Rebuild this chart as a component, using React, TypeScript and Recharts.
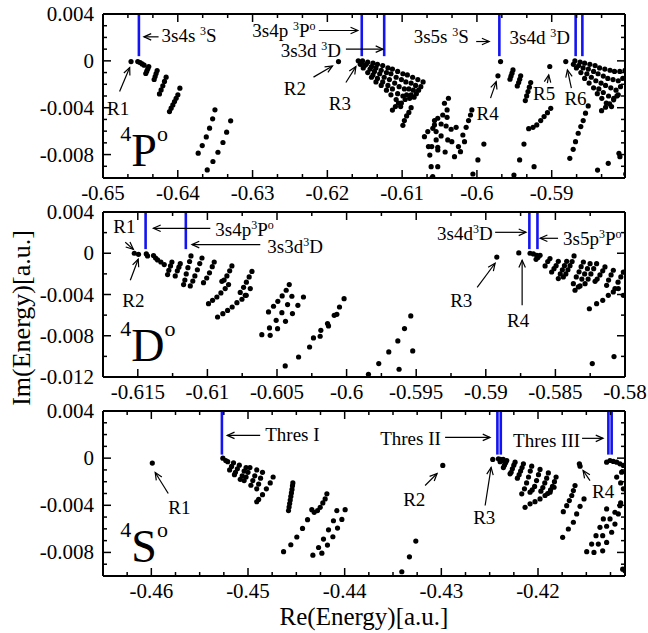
import { ScatterChart, Scatter, XAxis, YAxis, ReferenceLine, ReferenceDot } from 'recharts';

type Pt = [number, number];
type Arrow = [number, number, number, number];
type Note = { x: number; y: number; text: string };

const FONT = '"Liberation Serif", "Times New Roman", serif';

// ---------- 4P° panel ----------
const p1XMajor = [-0.65, -0.64, -0.63, -0.62, -0.61, -0.6, -0.59];
const p1XMinor = [-0.64667, -0.64333, -0.63667, -0.63333, -0.62667, -0.62333, -0.61667, -0.61333, -0.60667, -0.60333, -0.59667, -0.59333, -0.58667, -0.58333];
const p1YMajor = [0.004, 0, -0.004, -0.008];
const p1YMinor = [0.003, 0.002, 0.001, -0.001, -0.002, -0.003, -0.005, -0.006, -0.007, -0.009];
const p1Thresholds = [-0.6452, -0.6154, -0.6124, -0.597, -0.5868, -0.5859];

const p1Resonances: Pt[] = [[-0.64625, -0.00006], [-0.61851, -0.00006], [-0.59719, -0.00128], [-0.59026, -0.00048], [-0.58812, -0.00006]];
const p1Series1: Pt[] = [
  [-0.64535, -0.00006], [-0.64504, -0.00014], [-0.64477, -0.00026], [-0.6445, -0.00037],
  [-0.64388, -0.00048], [-0.64401, -0.00068], [-0.64415, -0.00088], [-0.64428, -0.00108],
  [-0.64276, -0.00083], [-0.6429, -0.00108], [-0.64303, -0.00134], [-0.64316, -0.00159],
  [-0.64156, -0.00139], [-0.64178, -0.00176], [-0.642, -0.00213], [-0.64223, -0.00248], [-0.64245, -0.00282],
  [-0.64111, -0.00433], [-0.64089, -0.00404], [-0.64066, -0.00376], [-0.64044, -0.00347], [-0.64022, -0.00319], [-0.63999, -0.0029], [-0.63972, -0.00233],
];
const p1Lines: Pt[] = [
  [-0.63727, -0.00788], [-0.63673, -0.00723], [-0.63619, -0.00649], [-0.63575, -0.00575], [-0.63534, -0.00495], [-0.63503, -0.00418],
  [-0.63606, -0.00931], [-0.6353, -0.00859], [-0.63463, -0.0078], [-0.63396, -0.00697], [-0.63347, -0.00609], [-0.63293, -0.00512],
];
const p1Mass: Pt[] = [
  [-0.61587, 0], [-0.6153, 0], [-0.6154, -0.0001], [-0.6156, -0.0003],
  [-0.6146, -0.0001], [-0.6148, -0.0003], [-0.615, -0.0004], [-0.6152, -0.0006],
  [-0.6139, -0.0002], [-0.6141, -0.0005], [-0.6143, -0.0007], [-0.6146, -0.001],
  [-0.6133, -0.0003], [-0.6135, -0.0006], [-0.6137, -0.0009], [-0.6139, -0.0012], [-0.6141, -0.0014],
  [-0.6126, -0.0004], [-0.6128, -0.0008], [-0.613, -0.0011], [-0.6133, -0.0015], [-0.6135, -0.0018],
  [-0.6119, -0.0006], [-0.6121, -0.001], [-0.6124, -0.0014], [-0.6126, -0.0018], [-0.6128, -0.0021],
  [-0.6113, -0.0007], [-0.6115, -0.0011], [-0.6117, -0.0016], [-0.6119, -0.0021], [-0.6121, -0.0025],
  [-0.6106, -0.0009], [-0.6108, -0.0014], [-0.611, -0.0019], [-0.6113, -0.0024], [-0.6115, -0.0029],
  [-0.6099, -0.0011], [-0.6101, -0.0016], [-0.6104, -0.0022], [-0.6106, -0.0028], [-0.6108, -0.0033],
  [-0.6093, -0.0012], [-0.6095, -0.0018], [-0.6097, -0.0024], [-0.6099, -0.003], [-0.6101, -0.0036], [-0.6102, -0.0039],
  [-0.6086, -0.0014], [-0.6088, -0.0019], [-0.6091, -0.0024], [-0.6094, -0.0029], [-0.6096, -0.0033],
  [-0.6079, -0.0016], [-0.6082, -0.0021], [-0.6085, -0.0025], [-0.6088, -0.0029], [-0.609, -0.0032],
  [-0.6072, -0.0018], [-0.6075, -0.0022], [-0.6078, -0.0025], [-0.6081, -0.0028], [-0.6084, -0.0031],
  [-0.6113, -0.0042], [-0.6109, -0.0039], [-0.6105, -0.0036],
  [-0.6099, -0.0055], [-0.6097, -0.0051], [-0.6094, -0.0047], [-0.6091, -0.0044], [-0.6088, -0.004],
];
const p1Cloud: Pt[] = [
  [-0.60702, -0.00647], [-0.60648, -0.00732], [-0.6063, -0.00804], [-0.60612, -0.00903], [-0.60603, -0.01], [-0.6059, -0.00576],
  [-0.60567, -0.0051], [-0.60545, -0.00675], [-0.60657, -0.00604], [-0.60523, -0.00761],
  [-0.60381, -0.00319], [-0.60434, -0.00362], [-0.60399, -0.00419], [-0.60457, -0.00462], [-0.60524, -0.0049], [-0.60399, -0.00482],
  [-0.60568, -0.00547], [-0.60479, -0.00539], [-0.60412, -0.00556], [-0.60345, -0.00584], [-0.60278, -0.00567], [-0.60546, -0.00604],
  [-0.60479, -0.00641], [-0.6039, -0.00675], [-0.60604, -0.00732], [-0.60524, -0.00738], [-0.60425, -0.00778], [-0.60336, -0.0069],
  [-0.603, -0.00818], [-0.60247, -0.00732], [-0.60188, -0.00633], [-0.60166, -0.0069], [-0.6022, -0.00775], [-0.60144, -0.00567],
  [-0.60112, -0.0051], [-0.60086, -0.00462], [-0.60068, -0.00419], [-0.59907, -0.0071], [-0.59987, -0.00846], [-0.60054, -0.00966],
  [-0.60524, -0.00903], [-0.60591, -0.00989],
];
const p1Series4: Pt[] = [
  [-0.59684, -0.00006],
  [-0.59518, -0.00077], [-0.59531, -0.00105], [-0.59545, -0.00131], [-0.59558, -0.00157],
  [-0.59415, -0.00128], [-0.59428, -0.00157], [-0.59442, -0.00185], [-0.5946, -0.00214],
  [-0.59281, -0.00185], [-0.59299, -0.00225], [-0.59317, -0.00262], [-0.59335, -0.00299], [-0.59353, -0.00339],
  [-0.59013, -0.00405], [-0.59057, -0.00442], [-0.59102, -0.00476], [-0.59147, -0.0051], [-0.592, -0.00547], [-0.5925, -0.00567],
  [-0.59308, -0.00579], [-0.59371, -0.0071], [-0.59429, -0.00846], [-0.59505, -0.00975], [-0.59236, -0.00903],
];
const p1Series6: Pt[] = [
  [-0.58758, -0.00832], [-0.58713, -0.00755], [-0.58682, -0.0069], [-0.58646, -0.00618], [-0.58611, -0.00561], [-0.58579, -0.0051],
  [-0.58548, -0.00447], [-0.58512, -0.00385],
  [-0.58387, -0.00932], [-0.58244, -0.00875], [-0.58101, -0.00789], [-0.58088, -0.00818], [-0.58011, -0.00966],
  [-0.5869, 0], [-0.5871, -0.0003],
  [-0.5862, -0.0001], [-0.5864, -0.0004], [-0.5867, -0.0006],
  [-0.5856, -0.0002], [-0.5858, -0.0006], [-0.5861, -0.001],
  [-0.5849, -0.0003], [-0.5851, -0.0007], [-0.5853, -0.0011], [-0.5856, -0.0015],
  [-0.5842, -0.0004], [-0.5844, -0.0009], [-0.5847, -0.0014], [-0.585, -0.0019],
  [-0.5836, -0.0006], [-0.5838, -0.0011], [-0.5841, -0.0017], [-0.5844, -0.0023],
  [-0.5829, -0.0007], [-0.5831, -0.0013], [-0.5834, -0.0019], [-0.5837, -0.0024], [-0.5839, -0.0028],
  [-0.5822, -0.0008], [-0.5825, -0.0015], [-0.5828, -0.0021], [-0.5831, -0.0027], [-0.5833, -0.0032],
  [-0.5816, -0.0009], [-0.5818, -0.0016], [-0.5821, -0.0023], [-0.5824, -0.003], [-0.5827, -0.0036],
  [-0.5809, -0.0009], [-0.5811, -0.0017], [-0.5814, -0.0025], [-0.5817, -0.0032], [-0.582, -0.0039],
  [-0.5802, -0.0008], [-0.5805, -0.0015], [-0.5808, -0.0022], [-0.5811, -0.0029],
  [-0.58333, -0.00425], [-0.5828, -0.00396], [-0.58226, -0.00368], [-0.58172, -0.00333], [-0.58128, -0.00299],
];
const p1Notes: Note[] = [
  { x: -0.64217, y: 0.00162, text: '3s4s ^{3}S' },
  { x: -0.63003, y: 0.00205, text: '3s4p ^{3}P^{o}' },
  { x: -0.62624, y: 0.00034, text: '3s3d ^{3}D' },
  { x: -0.60845, y: 0.00151, text: '3s5s ^{3}S' },
  { x: -0.59564, y: 0.00145, text: '3s4d ^{3}D' },
  { x: -0.64946, y: -0.00461, text: 'R1' },
  { x: -0.62583, y: -0.0029, text: 'R2' },
  { x: -0.6198, y: -0.00418, text: 'R3' },
  { x: -0.60006, y: -0.00504, text: 'R4' },
  { x: -0.5925, y: -0.00333, text: 'R5' },
  { x: -0.5883, y: -0.00376, text: 'R6' },
];
const p1Arrows: Arrow[] = [
  [-0.64257, 0.00205, -0.64453, 0.00205],
  [-0.62114, 0.00259, -0.61592, 0.00259],
  [-0.61752, 0.001, -0.61256, 0.001],
  [-0.6001, 0.00165, -0.59836, 0.00165],
  [-0.64778, -0.00262, -0.64643, -0.00057],
  [-0.62185, -0.00139, -0.61931, -0.00043],
  [-0.61752, -0.00185, -0.61618, -0.00049],
  [-0.59818, -0.00318, -0.59742, -0.00177],
  [-0.59058, -0.0019, -0.5904, -0.0012],
  [-0.58737, -0.00233, -0.5879, -0.00077],
];

// ---------- 4D° panel ----------
const p2XMajor = [-0.615, -0.61, -0.605, -0.6, -0.595, -0.59, -0.585, -0.58];
const p2XMinor = [-0.6125, -0.6075, -0.6025, -0.5975, -0.5925, -0.5875, -0.5825];
const p2YMajor = [0.004, 0, -0.004, -0.008, -0.012];
const p2YMinor = [0.002, -0.002, -0.006, -0.01];
const p2Thresholds = [-0.61444, -0.61155, -0.58687, -0.58629];

const p2Resonances: Pt[] = [[-0.61525, 0], [-0.61495, -0.0001], [-0.58921, -0.00037], [-0.58763, 0.00003]];
const p2Series1: Pt[] = [
  [-0.61439, -0.00007], [-0.6143, -0.00026], [-0.61387, -0.00023], [-0.61372, -0.00046], [-0.61358, -0.00065], [-0.61334, -0.00085], [-0.6131, -0.0011],
  [-0.61255, -0.00085], [-0.61265, -0.00123], [-0.61277, -0.00165], [-0.61286, -0.00207],
  [-0.61195, -0.00101], [-0.61205, -0.00135], [-0.61216, -0.0017], [-0.61231, -0.0022],
  [-0.61118, -0.00026], [-0.61128, -0.0008], [-0.6114, -0.0014], [-0.61152, -0.002], [-0.61162, -0.0026], [-0.61171, -0.00304],
  [-0.61039, -0.00046], [-0.61055, -0.001], [-0.61072, -0.0016], [-0.6109, -0.0022], [-0.61105, -0.0027], [-0.61123, -0.00317],
  [-0.60951, -0.00085], [-0.60965, -0.0013], [-0.60985, -0.0019], [-0.61005, -0.0024], [-0.61028, -0.00285],
  [-0.60824, -0.00123], [-0.6084, -0.0017], [-0.6086, -0.0022], [-0.6088, -0.0026], [-0.60896, -0.00272],
  [-0.6068, -0.00176], [-0.607, -0.0023], [-0.6072, -0.0028], [-0.6074, -0.0033], [-0.60764, -0.0038], [-0.60728, -0.00408], [-0.60692, -0.00343],
  [-0.60992, -0.00489], [-0.60963, -0.00456], [-0.60932, -0.00424], [-0.60903, -0.00385], [-0.60872, -0.00343], [-0.60848, -0.00304],
  [-0.60927, -0.00618], [-0.60889, -0.00586], [-0.60855, -0.00554], [-0.60822, -0.00521], [-0.60788, -0.00479], [-0.60752, -0.00446], [-0.60721, -0.00408],
];
const p2Cloud: Pt[] = [
  [-0.60561, -0.00569], [-0.60525, -0.00514], [-0.60494, -0.00466], [-0.60463, -0.00414], [-0.60434, -0.00359], [-0.60412, -0.00304],
  [-0.60554, -0.00724], [-0.60506, -0.0065], [-0.60465, -0.00576], [-0.60424, -0.00498], [-0.60393, -0.00417],
  [-0.60609, -0.0079], [-0.60549, -0.00796], [-0.60496, -0.00731], [-0.60439, -0.0066], [-0.60389, -0.00585], [-0.6035, -0.00505], [-0.6031, -0.00424],
  [-0.60441, -0.01093], [-0.60345, -0.01006], [-0.60266, -0.00909], [-0.60238, -0.00821], [-0.6019, -0.00805], [-0.60185, -0.00747],
  [-0.60137, -0.00682], [-0.6013, -0.00705], [-0.60089, -0.00602], [-0.6007, -0.00592], [-0.60051, -0.00521], [-0.60018, -0.0044],
  [-0.59843, -0.01174], [-0.59769, -0.0107], [-0.59697, -0.00957], [-0.59632, -0.0085], [-0.59584, -0.0073], [-0.59539, -0.00608],
  [-0.59623, -0.01125], [-0.59525, -0.00947],
];
const p2Mass: Pt[] = [
  [-0.58682, 0], [-0.58658, -0.00007], [-0.58634, -0.0002],
  [-0.5861, -0.0002], [-0.58625, -0.0004], [-0.58639, -0.00059],
  [-0.58539, -0.00052], [-0.58555, -0.0008], [-0.58574, -0.00123],
  [-0.58479, -0.00078], [-0.58495, -0.0012], [-0.5851, -0.0015], [-0.58527, -0.00182],
  [-0.58419, -0.00078], [-0.58435, -0.0012], [-0.5845, -0.0016], [-0.58465, -0.002], [-0.58479, -0.00246],
  [-0.58366, -0.00026], [-0.5838, -0.0008], [-0.58395, -0.0012], [-0.5841, -0.0016], [-0.58425, -0.002], [-0.58443, -0.0023],
  [-0.58299, -0.00085], [-0.58315, -0.0013], [-0.5833, -0.0018], [-0.5835, -0.0023], [-0.58371, -0.00295],
  [-0.58251, -0.00101], [-0.5827, -0.0015], [-0.5829, -0.002], [-0.5831, -0.0025], [-0.58335, -0.00327],
  [-0.58204, -0.00101], [-0.58225, -0.0015], [-0.58245, -0.002], [-0.58265, -0.0025], [-0.58287, -0.00295],
  [-0.58144, -0.00133], [-0.5816, -0.0017], [-0.5818, -0.0021], [-0.582, -0.0025], [-0.58215, -0.00272],
  [-0.58084, -0.00165], [-0.581, -0.0021], [-0.58118, -0.0026], [-0.58132, -0.00311],
  [-0.58012, -0.00182], [-0.5803, -0.0023], [-0.5805, -0.0028], [-0.58072, -0.00343],
  [-0.58359, -0.00359], [-0.58323, -0.00317], [-0.58256, -0.00538], [-0.58204, -0.00489], [-0.5816, -0.00456],
  [-0.5812, -0.00408], [-0.58084, -0.00375], [-0.58048, -0.00343], [-0.58012, -0.00408],
  [-0.58235, -0.0107], [-0.58079, -0.01002],
];
const p2Notes: Note[] = [
  { x: -0.61676, y: 0.00193, text: 'R1' },
  { x: -0.61611, y: -0.00523, text: 'R2' },
  { x: -0.60943, y: 0.00164, text: '3s4p^{3}P^{o}' },
  { x: -0.6057, y: 0, text: '3s3d^{3}D' },
  { x: -0.5935, y: 0.00126, text: '3s4d^{3}D' },
  { x: -0.58445, y: 0.00077, text: '3s5p^{3}P^{o}' },
  { x: -0.59256, y: -0.00523, text: 'R3' },
  { x: -0.58847, y: -0.00717, text: 'R4' },
];
const p2Arrows: Arrow[] = [
  [-0.6159, 0.00106, -0.61532, 0.00038],
  [-0.61554, -0.00262, -0.61497, -0.00058],
  [-0.60979, 0.00242, -0.61388, 0.00242],
  [-0.6062, 0.00084, -0.61111, 0.00084],
  [-0.58933, 0.00203, -0.58711, 0.00203],
  [-0.58481, 0.00145, -0.5861, 0.00145],
  [-0.59062, -0.0033, -0.58933, -0.00097],
  [-0.58739, -0.00505, -0.58739, -0.00068],
];

// ---------- 4S° panel ----------
const p3XMajor = [-0.46, -0.45, -0.44, -0.43, -0.42];
const p3XMinor = [-0.4625, -0.4575, -0.455, -0.4525, -0.4475, -0.445, -0.4425, -0.4375, -0.435, -0.4325, -0.4275, -0.425, -0.4225, -0.4175, -0.415, -0.4125];
const p3YMajor = [0.004, 0, -0.004, -0.008];
const p3YMinor = [0.003, 0.002, 0.001, -0.001, -0.002, -0.003, -0.005, -0.006, -0.007, -0.009];
const p3Thresholds = [-0.4527, -0.4242, -0.42385, -0.41272, -0.41238];

const p3Resonances: Pt[] = [[-0.4599, -0.00042], [-0.42985, -0.00062], [-0.42468, -0.00011], [-0.41572, -0.00048], [-0.41565, -0.00068]];
const p3Series1: Pt[] = [
  [-0.4526, 0], [-0.4523, -0.0002], [-0.4521, -0.0003],
  [-0.4515, -0.0004], [-0.4517, -0.0007], [-0.4519, -0.001],
  [-0.4509, -0.0006], [-0.4511, -0.0009], [-0.4513, -0.0012], [-0.4514, -0.0014],
  [-0.4502, -0.0008], [-0.4504, -0.0011], [-0.4506, -0.0015], [-0.4508, -0.0018],
  [-0.4498, -0.0008], [-0.45, -0.0012], [-0.4502, -0.0016], [-0.4504, -0.0019],
  [-0.4491, -0.001], [-0.4493, -0.0015], [-0.4495, -0.0019], [-0.4497, -0.0023],
  [-0.4485, -0.0012], [-0.4487, -0.0017], [-0.4489, -0.0022], [-0.4491, -0.0026],
  [-0.4474, -0.0016], [-0.4477, -0.0021], [-0.4481, -0.0026], [-0.4485, -0.0031], [-0.4489, -0.0035], [-0.4491, -0.0037],
  [-0.44581, -0.00445], [-0.44575, -0.00415], [-0.44569, -0.00385], [-0.44563, -0.00355], [-0.44557, -0.00325],
  [-0.44551, -0.00295], [-0.44545, -0.00265], [-0.4454, -0.00235], [-0.44536, -0.0021],
  [-0.44632, -0.00794], [-0.44557, -0.00735], [-0.44495, -0.00669], [-0.44436, -0.00596], [-0.44384, -0.00522],
  [-0.4434, -0.00437], [-0.44315, -0.0046], [-0.44281, -0.00445], [-0.44253, -0.00417], [-0.44226, -0.0038], [-0.44202, -0.00346], [-0.44184, -0.00303],
  [-0.44329, -0.00823], [-0.4427, -0.00758], [-0.44219, -0.00687], [-0.44167, -0.00608], [-0.44116, -0.00531], [-0.44081, -0.00445],
  [-0.44236, -0.00806], [-0.44178, -0.00738], [-0.44122, -0.00667], [-0.44074, -0.00593], [-0.44029, -0.0052], [-0.43995, -0.00437],
  [-0.43409, -0.00964], [-0.4333, -0.00837], [-0.43264, -0.00704],
];
const p3Series2: Pt[] = [
  [-0.4241, -0.00005], [-0.4239, -0.0001],
  [-0.4236, -0.0001], [-0.42375, -0.0002], [-0.42392, -0.0003],
  [-0.42323, -0.0002], [-0.42335, -0.0004], [-0.42347, -0.0006], [-0.42358, -0.0008],
  [-0.42237, -0.00034], [-0.4225, -0.0006], [-0.42265, -0.0009], [-0.42278, -0.0012], [-0.42289, -0.00133],
  [-0.42151, -0.00048], [-0.42165, -0.0008], [-0.4218, -0.0011], [-0.42195, -0.0014], [-0.42213, -0.0017],
  [-0.42065, -0.00068], [-0.4208, -0.0011], [-0.42098, -0.0016], [-0.42118, -0.0021], [-0.4214, -0.0026], [-0.42168, -0.00303],
  [-0.41979, -0.00096], [-0.41995, -0.0014], [-0.42015, -0.0019], [-0.42035, -0.0024], [-0.4206, -0.0027], [-0.42082, -0.00289],
  [-0.41893, -0.00125], [-0.4191, -0.0017], [-0.4193, -0.0021], [-0.4195, -0.0025], [-0.4197, -0.0028],
  [-0.41813, -0.00161], [-0.4183, -0.002], [-0.4185, -0.0024], [-0.4187, -0.0027], [-0.419, -0.003],
  [-0.42134, -0.00417], [-0.42082, -0.00388], [-0.42031, -0.00369], [-0.41979, -0.00346], [-0.41927, -0.00317], [-0.41875, -0.00289], [-0.41834, -0.00247],
];
const p3Series3: Pt[] = [
  [-0.41617, -0.00232], [-0.41634, -0.00275], [-0.41651, -0.00317], [-0.41676, -0.0036], [-0.41703, -0.00403], [-0.41738, -0.00454],
  [-0.41524, -0.00346], [-0.41565, -0.00409], [-0.416, -0.00473], [-0.41634, -0.00544], [-0.41686, -0.00601], [-0.41745, -0.00672],
  [-0.41496, -0.00794], [-0.41445, -0.00729], [-0.414, -0.00658], [-0.41359, -0.00587], [-0.41324, -0.00516], [-0.4129, -0.00431],
  [-0.41421, -0.008], [-0.41376, -0.00729], [-0.41331, -0.00658], [-0.4129, -0.00578], [-0.41255, -0.00516], [-0.41204, -0.00459],
  [-0.41331, -0.00786], [-0.4129, -0.00715], [-0.41238, -0.00629], [-0.41204, -0.00559], [-0.41169, -0.00473], [-0.41145, -0.0038],
  [-0.4129, -0.00034], [-0.41255, -0.0002], [-0.41221, -0.00028], [-0.41186, -0.00034], [-0.41152, -0.00048], [-0.41117, -0.00062],
  [-0.41186, -0.00161], [-0.41145, -0.0021], [-0.41117, -0.0026], [-0.41135, -0.00119], [-0.41152, -0.00403],
  [-0.41124, -0.00942], [-0.411, -0.00956],
];
const p3Notes: Note[] = [
  { x: -0.44822, y: 0.00142, text: 'Thres I' },
  { x: -0.43633, y: 0.00108, text: 'Thres II' },
  { x: -0.42258, y: 0.00091, text: 'Thres III' },
  { x: -0.45825, y: -0.00471, text: 'R1' },
  { x: -0.43395, y: -0.00402, text: 'R2' },
  { x: -0.42671, y: -0.00555, text: 'R3' },
  { x: -0.41441, y: -0.00334, text: 'R4' },
];
const p3Arrows: Arrow[] = [
  [-0.44874, 0.00193, -0.45215, 0.00193],
  [-0.42961, 0.00176, -0.42496, 0.00176],
  [-0.41544, 0.00168, -0.41327, 0.00168],
  [-0.45825, -0.003, -0.4596, -0.00122],
  [-0.43168, -0.00232, -0.43044, -0.0013],
  [-0.42547, -0.00402, -0.42485, -0.00079],
  [-0.41462, -0.0019, -0.41534, -0.00105],
];

const toXY = (pts: Pt[]) => pts.map(([x, y]) => ({ x, y }));
const fmt = (v: number) => String(Number(v.toFixed(4)));
const isIn = (list: number[], v: number) => list.some((m) => Math.abs(m - v) < 1e-9);

function makeTick(side: string, major: number[], showLabel: boolean) {
  return (props: any) => {
    const { x, y, payload } = props;
    const v = payload.value;
    const big = isIn(major, v);
    const len = big ? 8 : 4;
    let line;
    if (side === 'bottom') line = <line x1={x} y1={y} x2={x} y2={y - len} />;
    else if (side === 'top') line = <line x1={x} y1={y} x2={x} y2={y + len} />;
    else if (side === 'left') line = <line x1={x} y1={y} x2={x + len} y2={y} />;
    else line = <line x1={x} y1={y} x2={x - len} y2={y} />;
    return (
      <g>
        <g stroke="#000" strokeWidth={1.5}>{line}</g>
        {showLabel && big && side === 'bottom' && (
          <text x={x} y={y + 22} textAnchor="middle" fontSize={21} fontFamily={FONT} fill="#000">{fmt(v)}</text>
        )}
        {showLabel && big && side === 'left' && (
          <text x={x - 9} y={y + 7} textAnchor="end" fontSize={21} fontFamily={FONT} fill="#000">{fmt(v)}</text>
        )}
      </g>
    );
  };
}

function Rich({ x, y, text, size, supSize, rise }: { x: number; y: number; text: string; size: number; supSize: number; rise: number }) {
  const parts = text.split(/(\^\{[^}]*\})/).filter((s) => s.length > 0);
  let up = false;
  return (
    <text x={x} y={y} fontSize={size} fontFamily={FONT} fill="#000">
      {parts.map((p, i) => {
        if (p.startsWith('^{')) {
          const dy = up ? 0 : -rise;
          up = true;
          return <tspan key={i} dy={dy} fontSize={supSize}>{p.slice(2, -1)}</tspan>;
        }
        const dy = up ? rise : 0;
        up = false;
        return <tspan key={i} dy={dy}>{p}</tspan>;
      })}
    </text>
  );
}

const arrowShape = (p: any) => {
  const { x1, y1, x2, y2 } = p;
  const a = Math.atan2(y2 - y1, x2 - x1);
  const L = 8;
  const w = 0.42;
  const h1 = `${x2 - L * Math.cos(a - w)},${y2 - L * Math.sin(a - w)}`;
  const h2 = `${x2 - L * Math.cos(a + w)},${y2 - L * Math.sin(a + w)}`;
  return (
    <g stroke="#000" strokeWidth={1.2} fill="none">
      <line x1={x1} y1={y1} x2={x2} y2={y2} />
      <polyline points={`${h1} ${x2},${y2} ${h2}`} />
    </g>
  );
};

const dotShape = (p: any) => <circle cx={p.cx} cy={p.cy} r={2.6} fill="#000" />;

const AXIS_LINE = { stroke: '#000', strokeWidth: 2 };

type PanelCfg = {
  top: number;
  height: number;
  marginTop: number;
  xAxisH: number;
  xDomain: [number, number];
  yDomain: [number, number];
  xMajor: number[];
  xMinor: number[];
  yMajor: number[];
  yMinor: number[];
  groups: Pt[][];
  thresholds: number[];
  thrBottom: number;
  notes: Note[];
  arrows: Arrow[];
  term: Note;
};

function Panel({ cfg }: { cfg: PanelCfg }) {
  const xTicks = [...cfg.xMajor, ...cfg.xMinor].sort((a, b) => a - b);
  const yTicks = [...cfg.yMajor, ...cfg.yMinor].sort((a, b) => a - b);
  const yTop = cfg.yDomain[1];
  return (
    <div style={{ position: 'absolute', left: 0, top: cfg.top }}>
      <ScatterChart width={648} height={cfg.height} margin={{ top: cfg.marginTop, right: 23, bottom: 0, left: 0 }}>
        <XAxis xAxisId="b" type="number" dataKey="x" domain={cfg.xDomain} allowDataOverflow ticks={xTicks} interval={0}
          height={cfg.xAxisH} tickSize={0} tickMargin={0} tickLine={false} axisLine={AXIS_LINE} tick={makeTick('bottom', cfg.xMajor, true)} />
        <XAxis xAxisId="t" orientation="top" mirror type="number" dataKey="x" domain={cfg.xDomain} allowDataOverflow ticks={xTicks} interval={0}
          tickSize={0} tickMargin={0} tickLine={false} axisLine={AXIS_LINE} tick={makeTick('top', cfg.xMajor, false)} />
        <YAxis yAxisId="l" type="number" dataKey="y" domain={cfg.yDomain} allowDataOverflow ticks={yTicks} interval={0}
          width={103} tickSize={0} tickMargin={0} tickLine={false} axisLine={AXIS_LINE} tick={makeTick('left', cfg.yMajor, true)} />
        <YAxis yAxisId="r" orientation="right" mirror type="number" dataKey="y" domain={cfg.yDomain} allowDataOverflow ticks={yTicks} interval={0}
          tickSize={0} tickMargin={0} tickLine={false} axisLine={AXIS_LINE} tick={makeTick('right', cfg.yMajor, false)} />
        {cfg.groups.map((g, i) => (
          <Scatter key={i} xAxisId="b" yAxisId="l" data={toXY(g)} shape={dotShape} isAnimationActive={false} />
        ))}
        {cfg.thresholds.map((t, i) => (
          <ReferenceLine key={`t${i}`} xAxisId="b" yAxisId="l" ifOverflow="visible"
            segment={[{ x: t, y: yTop }, { x: t, y: cfg.thrBottom }]} stroke="#1414f0" strokeWidth={2.6} />
        ))}
        {cfg.arrows.map((a, i) => (
          <ReferenceLine key={`a${i}`} xAxisId="b" yAxisId="l" ifOverflow="visible"
            segment={[{ x: a[0], y: a[1] }, { x: a[2], y: a[3] }]} shape={arrowShape} />
        ))}
        {cfg.notes.map((n, i) => (
          <ReferenceDot key={`n${i}`} xAxisId="b" yAxisId="l" x={n.x} y={n.y} ifOverflow="visible"
            shape={(p: any) => <Rich x={p.cx} y={p.cy} text={n.text} size={19} supSize={12} rise={7} />} />
        ))}
        <ReferenceDot xAxisId="b" yAxisId="l" x={cfg.term.x} y={cfg.term.y} ifOverflow="visible"
          shape={(p: any) => <Rich x={p.cx} y={p.cy} text={cfg.term.text} size={46} supSize={22} rise={25} />} />
      </ScatterChart>
    </div>
  );
}

const panels: PanelCfg[] = [
  {
    top: 0, height: 210, marginTop: 14, xAxisH: 32,
    xDomain: [-0.65, -0.5802], yDomain: [-0.01, 0.004],
    xMajor: p1XMajor, xMinor: p1XMinor, yMajor: p1YMajor, yMinor: p1YMinor,
    groups: [p1Resonances, p1Series1, p1Lines, p1Mass, p1Cloud, p1Series4, p1Series6],
    thresholds: p1Thresholds, thrBottom: 0.0004, notes: p1Notes, arrows: p1Arrows,
    term: { x: -0.64768, y: -0.00896, text: '^{4}P^{o}' },
  },
  {
    top: 200, height: 210, marginTop: 12, xAxisH: 33,
    xDomain: [-0.6175, -0.58], yDomain: [-0.012, 0.004],
    xMajor: p2XMajor, xMinor: p2XMinor, yMajor: p2YMajor, yMinor: p2YMinor,
    groups: [p2Resonances, p2Series1, p2Cloud, p2Mass],
    thresholds: p2Thresholds, thrBottom: 0.0004, notes: p2Notes, arrows: p2Arrows,
    term: { x: -0.61626, y: -0.01048, text: '^{4}D^{o}' },
  },
  {
    top: 400, height: 233, marginTop: 11, xAxisH: 57,
    xDomain: [-0.465, -0.411], yDomain: [-0.01, 0.004],
    xMajor: p3XMajor, xMinor: p3XMinor, yMajor: p3YMajor, yMinor: p3YMinor,
    groups: [p3Resonances, p3Series1, p3Series2, p3Series3],
    thresholds: p3Thresholds, thrBottom: 0.0003, notes: p3Notes, arrows: p3Arrows,
    term: { x: -0.46321, y: -0.00879, text: '^{4}S^{o}' },
  },
];

export default function App() {
  return (
    <div style={{ position: 'absolute', left: 0, top: 0, width: 648, height: 633, background: '#fff' }}>
      {panels.map((cfg, i) => (
        <Panel key={i} cfg={cfg} />
      ))}
      <svg width={648} height={633} style={{ position: 'absolute', left: 0, top: 0, pointerEvents: 'none' }}>
        <text x={364} y={625} textAnchor="middle" fontSize={25} fontFamily={FONT} fill="#000">Re(Energy)[a.u.]</text>
        <text x={30} y={318} textAnchor="middle" fontSize={26} fontFamily={FONT} fill="#000" transform="rotate(-90 30 318)">Im(Energy)[a.u.]</text>
      </svg>
    </div>
  );
}
